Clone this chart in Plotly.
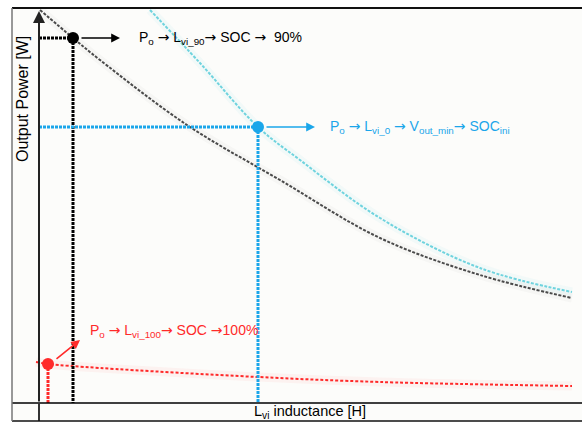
import plotly.graph_objects as go

# Inductance (arbitrary units) vs. output power (arbitrary units) curves
L_black = [0.02, 0.68, 1.22, 2.96, 4.82, 6.82, 8.82, 10.66]
P_black = [9.825, 9.125, 8.575, 6.95, 5.575, 4.125, 3.2, 2.625]

L_cyan = [2.22, 3.22, 4.38, 5.22, 6.82, 8.82, 10.66]
P_cyan = [9.825, 8.5, 6.9, 6.075, 4.625, 3.375, 2.775]

L_red = [-0.06, 0.18, 1.22, 4.38, 6.82, 10.66]
P_red = [1.025, 0.975, 0.875, 0.65, 0.525, 0.425]

# Operating points: SOC 90 %, initial SOC, SOC 100 %
op_names = ["soc90", "soc_ini", "soc100"]
op_L = [0.68, 4.38, 0.18]
op_P = [9.125, 6.9, 0.975]

ARW = '<span style="font-family:DejaVu Sans">→</span>'
labels = [
    f"P<sub>o</sub> {ARW} L<sub>vi_90</sub>{ARW} SOC {ARW}  90%",
    f"P<sub>o</sub> {ARW} L<sub>vi_0</sub> {ARW} V<sub>out_min</sub>{ARW} SOC<sub>ini</sub>",
    f"P<sub>o</sub> {ARW} L<sub>vi_100</sub>{ARW} SOC {ARW}100%",
]

BLACK = "#000000"
GRAY = "#4a4a4a"
CYAN = "#6fd3de"
BLUE = "#1ba6ea"
RED = "#ff2a2a"
FONT = "Liberation Sans, Arial, sans-serif"

X_RANGE = [-0.54, 10.86]
Y_RANGE = [-0.45, 9.875]

fig = go.Figure()

# faint halo under the curves
for L, P, c in [(L_black, P_black, "rgba(80,80,80,0.035)"),
                (L_cyan, P_cyan, "rgba(110,210,220,0.07)"),
                (L_red, P_red, "rgba(255,60,60,0.05)")]:
    fig.add_trace(go.Scatter(x=L, y=P, mode="lines", line=dict(color=c, width=9, shape="spline"),
                             hoverinfo="skip", showlegend=False))

# characteristic curves
fig.add_trace(go.Scatter(x=L_black, y=P_black, mode="lines",
                         line=dict(color=GRAY, width=2, dash="3px,1.5px", shape="spline"), showlegend=False))
fig.add_trace(go.Scatter(x=L_cyan, y=P_cyan, mode="lines",
                         line=dict(color=CYAN, width=2, dash="3px,1.5px", shape="spline"), showlegend=False))
fig.add_trace(go.Scatter(x=L_red, y=P_red, mode="lines",
                         line=dict(color=RED, width=2, dash="3px,2px", shape="spline"), showlegend=False))

# guide lines from each operating point to the axes
guide_colors = [BLACK, BLUE, RED]
for i, (lx, py, c) in enumerate(zip(op_L, op_P, guide_colors)):
    fig.add_trace(go.Scatter(x=[lx, lx], y=[py, 0], mode="lines",
                             line=dict(color=c, width=3, dash="3px,1px"), showlegend=False))
    if i < 2:
        fig.add_trace(go.Scatter(x=[0, lx], y=[py, py], mode="lines",
                                 line=dict(color=c, width=3, dash="3px,1px"), showlegend=False))

# operating points
fig.add_trace(go.Scatter(x=op_L, y=op_P, mode="markers",
                         marker=dict(color=guide_colors, size=12, line=dict(width=0)),
                         showlegend=False))

# axes drawn as lines
fig.add_shape(type="line", x0=X_RANGE[0], x1=X_RANGE[1], y0=0, y1=0,
              line=dict(color=BLACK, width=1.5), xref="x", yref="y")
fig.add_shape(type="line", x0=0, x1=0, y0=Y_RANGE[0], y1=0,
              line=dict(color="#333333", width=2), xref="x", yref="y")
fig.add_annotation(x=0, y=9.8, ax=0, ay=0, xref="x", yref="y", axref="x", ayref="y",
                   text="", showarrow=True, arrowhead=2, arrowsize=1.2, arrowwidth=2, arrowcolor="#222222")

# frame
fig.add_shape(type="line", x0=0, x1=1, y0=1, y1=1, xref="paper", yref="paper",
              line=dict(color="#111111", width=2))
fig.add_shape(type="line", x0=0, x1=1, y0=0, y1=0, xref="paper", yref="paper",
              line=dict(color="#111111", width=1.5))
fig.add_shape(type="line", x0=0, x1=0, y0=0, y1=1, xref="paper", yref="paper",
              line=dict(color="#777777", width=1.5))

# arrows from the points to their labels
arrows = [
    (0.82, 9.125, 1.62, 9.125, BLACK),
    (4.52, 6.9, 5.52, 6.9, BLUE),
    (0.32, 1.075, 0.82, 1.575, RED),
]
for x0, y0, x1, y1, c in arrows:
    fig.add_annotation(x=x1, y=y1, ax=x0, ay=y0, xref="x", yref="y", axref="x", ayref="y",
                       text="", showarrow=True, arrowhead=2, arrowsize=1.1, arrowwidth=1.6,
                       arrowcolor=c)

label_pos = [(1.96, 9.125, BLACK), (5.78, 6.9, BLUE), (0.98, 1.8, RED)]
for (x, y, c), t in zip(label_pos, labels):
    fig.add_annotation(x=x, y=y, xref="x", yref="y", text=t, showarrow=False,
                       xanchor="left", yanchor="middle", font=dict(family=FONT, size=14, color=c))

# axis titles
fig.add_annotation(x=-0.34, y=7.6, xref="x", yref="y", text="Output Power [W]", textangle=-90,
                   showarrow=False, font=dict(family=FONT, size=16, color=BLACK))
fig.add_annotation(x=5.42, y=-0.225, xref="x", yref="y", text="L<sub>vi</sub> inductance [H]",
                   showarrow=False, font=dict(family=FONT, size=14.5, color=BLACK))

fig.update_xaxes(range=X_RANGE, visible=False, fixedrange=True)
fig.update_yaxes(range=Y_RANGE, visible=False, fixedrange=True)
fig.update_layout(
    width=582, height=425,
    margin=dict(l=12, r=0, t=8, b=4),
    paper_bgcolor="white", plot_bgcolor="#fcfcfa",
    showlegend=False,
)

fig.write_html("out.html")
